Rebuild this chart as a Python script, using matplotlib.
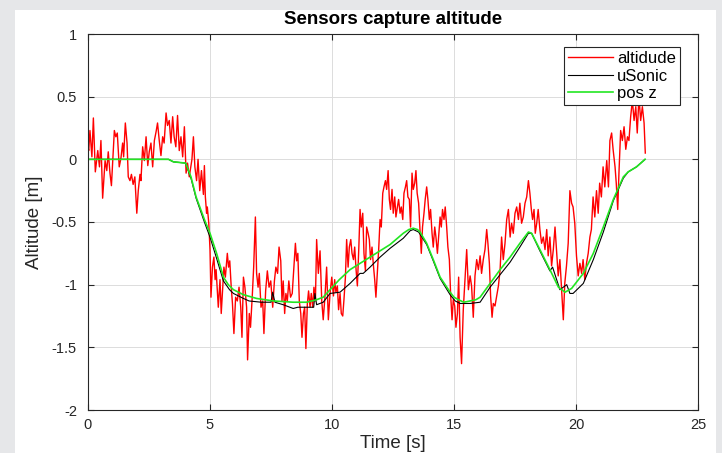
import matplotlib
matplotlib.use('Agg')
import matplotlib.pyplot as plt
from matplotlib.patches import Rectangle

plt.rcParams['font.family'] = ['Liberation Sans', 'DejaVu Sans']

# ---------------- data ----------------
red_t = [0.00, 0.03, 0.08, 0.16, 0.22, 0.30, 0.40, 0.47, 0.53, 0.60, 0.70, 0.77, 0.83, 0.90, 0.96,
         1.01, 1.08, 1.14, 1.20, 1.28, 1.35, 1.42, 1.46, 1.53, 1.60, 1.65, 1.72, 1.78, 1.85, 1.92,
         2.00, 2.06, 2.13, 2.17, 2.24, 2.31, 2.38, 2.45, 2.51, 2.58, 2.65, 2.72, 2.79, 2.85, 2.92,
         2.99, 3.06, 3.12, 3.20, 3.26, 3.33, 3.40, 3.47, 3.53, 3.60, 3.67, 3.74, 3.81, 3.88, 3.95,
         4.02, 4.08, 4.15, 4.26, 4.32, 4.38, 4.45, 4.51, 4.58, 4.65, 4.73, 4.77, 4.81, 4.86,
         4.89, 4.95, 5.00, 5.04, 5.10, 5.16, 5.21, 5.25, 5.34, 5.41, 5.46, 5.52, 5.57, 5.63, 5.71,
         5.76, 5.81, 5.87, 5.92, 5.98, 6.05, 6.12, 6.19, 6.26, 6.31, 6.37, 6.43, 6.50, 6.54, 6.61,
         6.66, 6.73, 6.79, 6.86, 6.91, 6.97, 7.02, 7.09, 7.16, 7.21, 7.28, 7.35, 7.42, 7.49, 7.57,
         7.64, 7.70, 7.77, 7.83, 7.90, 7.95, 8.00, 8.06, 8.11, 8.17, 8.23, 8.30, 8.37, 8.43, 8.50,
         8.55, 8.60, 8.66, 8.72, 8.77, 8.83, 8.88, 8.93, 8.99, 9.04, 9.10, 9.15, 9.21, 9.26, 9.32,
         9.37, 9.44, 9.51, 9.58, 9.64, 9.71, 9.78, 9.85,
         9.92, 9.99, 10.06, 10.11, 10.16, 10.22, 10.27, 10.33, 10.38, 10.44, 10.49, 10.55, 10.60,
         10.66, 10.71, 10.77, 10.82, 10.88, 10.93, 10.99, 11.04, 11.10, 11.15, 11.20, 11.26, 11.31,
         11.37, 11.42, 11.48, 11.53, 11.58, 11.64, 11.69, 11.75, 11.80, 11.86, 11.91, 11.97, 12.02,
         12.08, 12.13, 12.19, 12.24, 12.30, 12.35, 12.40, 12.46, 12.51, 12.57, 12.62, 12.68, 12.73,
         12.79, 12.84, 12.90, 12.95, 13.01, 13.06, 13.11, 13.17, 13.22, 13.28, 13.33, 13.39, 13.44,
         13.49, 13.55, 13.60, 13.66, 13.71, 13.77, 13.82, 13.88, 13.93, 13.99, 14.04, 14.10, 14.15,
         14.21, 14.26, 14.32, 14.37, 14.43, 14.48, 14.53, 14.59, 14.64, 14.70, 14.75, 14.81, 14.86,
         14.92, 14.97, 15.03, 15.08, 15.14, 15.19, 15.25, 15.31, 15.38, 15.44,
         15.52, 15.59, 15.66, 15.72, 15.79, 15.86, 15.93, 16.00, 16.07, 16.13, 16.20, 16.27, 16.34,
         16.39, 16.45, 16.50, 16.56, 16.61, 16.68, 16.75, 16.82, 16.89, 16.95, 17.02, 17.09, 17.16,
         17.23, 17.30, 17.36, 17.43, 17.50, 17.57, 17.64, 17.70, 17.77, 17.84, 17.91, 17.98, 18.05,
         18.11, 18.17, 18.22, 18.28, 18.33, 18.39, 18.45, 18.52, 18.59, 18.66, 18.73, 18.80, 18.86,
         18.93, 19.00, 19.07, 19.14, 19.20, 19.27, 19.34, 19.41, 19.48, 19.54, 19.61, 19.68, 19.75,
         19.82, 19.88, 19.95, 20.02, 20.09, 20.16, 20.23, 20.29, 20.36, 20.43, 20.50, 20.57,
         20.63, 20.70, 20.77, 20.84, 20.91, 20.97, 21.04, 21.11, 21.18, 21.26, 21.33, 21.39, 21.46,
         21.52, 21.60, 21.65, 21.71, 21.76, 21.83, 21.90, 21.97, 22.04, 22.11, 22.17, 22.24, 22.31,
         22.38, 22.45, 22.51, 22.58, 22.65, 22.72, 22.79, 22.84]
red_v = [0.10, 0.07, 0.23, 0.02, 0.33, -0.10, 0.07, -0.06, 0.15, -0.31, -0.01, -0.09, 0.06, -0.11, -0.21,
         -0.03, 0.23, 0.18, 0.21, -0.06, 0.01, 0.13, 0.02, 0.29, 0.13, -0.14, -0.17, -0.12, -0.20, -0.14,
         -0.43, -0.25, -0.12, -0.17, 0.10, -0.01, 0.18, -0.05, 0.06, 0.13, -0.06, 0.15, 0.22, 0.29, 0.15,
         0.03, 0.18, 0.13, 0.37, 0.27, 0.31, 0.13, 0.34, 0.18, 0.10, 0.35, 0.07, 0.18, 0.02, 0.26,
         -0.11, -0.03, -0.14, 0.00, 0.18, -0.06, -0.17, 0.00, -0.25, -0.09, -0.28, -0.05, -0.30, -0.43,
         -0.38, -0.51, -0.72, -1.10, -0.86, -0.78, -0.96, -0.88, -1.18, -0.96, -1.23, -1.02, -0.86, -0.94, -0.75,
         -0.86, -0.81, -1.02, -1.15, -1.39, -1.10, -1.13, -1.02, -1.18, -1.42, -0.94, -1.02, -1.18, -1.60, -1.23,
         -1.34, -1.10, -0.86, -0.46, -0.91, -1.02, -0.91, -1.18, -1.13, -1.39, -1.05, -0.89, -1.02, -0.97, -1.18,
         -0.97, -0.86, -0.91, -0.70, -0.81, -1.13, -0.97, -1.23, -1.07, -1.13, -0.97, -1.10, -1.07, -0.89, -0.67,
         -0.81, -0.75, -1.13, -1.23, -1.42, -1.23, -1.18, -1.51, -1.15, -1.05, -1.18, -1.07, -1.18, -1.02, -1.13,
         -0.64, -0.91, -0.73, -1.13, -1.28, -1.10, -0.86, -1.28,
         -1.07, -0.94, -1.09, -0.96, -1.06, -1.01, -1.20, -1.07, -1.23, -1.25, -1.12, -0.94, -0.64,
         -0.86, -0.70, -0.64, -0.75, -0.80, -0.70, -0.89, -1.01, -0.70, -0.40, -0.54, -0.43, -0.75,
         -0.89, -0.54, -0.59, -0.64, -0.80, -0.70, -0.83, -0.96, -1.10, -0.89, -0.73, -0.48, -0.54,
         -0.27, -0.22, -0.17, -0.24, -0.09, -0.32, -0.40, -0.24, -0.43, -0.30, -0.46, -0.38, -0.32,
         -0.43, -0.38, -0.48, -0.27, -0.22, -0.17, -0.30, -0.32, -0.54, -0.11, -0.24, -0.19, -0.09,
         -0.27, -0.35, -0.54, -0.75, -0.54, -0.43, -0.32, -0.22, -0.32, -0.48, -0.40, -0.59, -0.70,
         -0.54, -0.62, -0.75, -0.62, -0.46, -0.54, -0.40, -0.48, -0.38, -0.54, -0.70, -0.80, -1.07,
         -1.28, -1.12, -1.17, -1.34, -1.23, -0.94, -1.42, -1.63, -1.20, -0.99,
         -0.72, -1.04, -0.93, -1.01, -1.26, -0.93, -0.80, -0.88, -0.77, -0.91, -0.80, -0.72, -0.56,
         -0.67, -0.83, -1.09, -1.26, -1.15, -1.17, -1.09, -1.01, -0.88, -0.62, -0.80, -0.67, -0.48,
         -0.40, -0.62, -0.51, -0.59, -0.43, -0.38, -0.48, -0.35, -0.51, -0.46, -0.35, -0.30, -0.17,
         -0.27, -0.40, -0.48, -0.40, -0.59, -0.51, -0.40, -0.56, -0.67, -0.62, -0.72, -0.56, -0.77,
         -0.62, -0.85, -0.72, -0.54, -0.72, -0.93, -0.80, -1.04, -1.28, -0.99, -0.85, -0.67, -0.25,
         -0.35, -0.38, -0.51, -0.77, -0.93, -0.83, -0.91, -0.80, -0.96, -0.83, -0.75, -0.62,
         -0.56, -0.30, -0.46, -0.25, -0.43, -0.19, -0.30, -0.06, -0.22, -0.01, -0.22, 0.15, 0.21,
         0.08, -0.06, -0.19, -0.40, -0.11, 0.23, 0.15, 0.26, 0.08, 0.18, 0.15, 0.34, 0.47,
         0.31, 0.42, 0.21, 0.50, 0.31, 0.42, 0.29, 0.05]

usonic_t = [0.0, 3.3, 3.5, 4.0, 4.22, 4.43, 4.77, 5.00, 5.27, 5.55, 5.80, 5.96, 6.37, 6.60, 7.10,
            7.30, 7.50, 7.57, 7.66, 8.00, 8.41, 8.60, 8.96, 9.25, 9.30, 9.37, 9.64, 9.92, 10.33,
            10.74, 11.15, 11.28, 11.56, 11.97, 12.38, 12.65, 12.92, 13.20, 13.33, 13.55, 13.88,
            14.15, 14.43, 14.84, 15.05, 15.25, 15.66, 16.07, 16.48, 16.89, 17.30, 17.70, 18.05,
            18.18, 18.52, 18.93, 19.04, 19.34, 19.62, 19.75, 19.88, 20.30, 20.71, 21.12, 21.53,
            21.94, 22.14, 22.48, 22.83]
usonic_v = [0.0, 0.0, -0.02, -0.03, -0.15, -0.31, -0.50, -0.62, -0.79, -0.97, -1.04, -1.07, -1.11,
            -1.13, -1.14, -1.14, -1.14, -1.06, -1.14, -1.16, -1.19, -1.18, -1.18, -1.18, -1.07,
            -1.16, -1.14, -1.07, -1.06, -0.99, -0.91, -0.91, -0.86, -0.78, -0.71, -0.67, -0.63,
            -0.57, -0.56, -0.58, -0.68, -0.81, -0.95, -1.08, -1.13, -1.15, -1.15, -1.14, -1.02,
            -0.92, -0.82, -0.70, -0.59, -0.59, -0.73, -0.89, -0.86, -1.04, -1.00, -1.07, -1.07,
            -0.99, -0.80, -0.58, -0.33, -0.15, -0.10, -0.06, 0.00]

posz_t = [0.0, 3.3, 3.5, 4.0, 4.22, 4.43, 4.77, 5.00, 5.27, 5.55, 5.75, 5.96, 6.37, 6.91, 7.60,
          8.41, 8.96, 9.37, 9.64, 9.92, 10.30, 10.74, 11.56, 12.38, 12.92, 13.15, 13.33, 13.50,
          13.61, 13.88, 14.15, 14.43, 14.84, 15.00, 15.18, 15.40, 15.66, 15.90, 16.07, 16.48,
          16.89, 17.30, 17.70, 18.05, 18.18, 18.52, 18.93, 19.28, 19.55, 19.82, 20.30, 20.71,
          21.12, 21.53, 21.94, 22.14, 22.48, 22.83]
posz_v = [0.0, 0.0, -0.02, -0.03, -0.14, -0.30, -0.48, -0.59, -0.75, -0.94, -1.00, -1.04, -1.08,
          -1.11, -1.13, -1.14, -1.14, -1.12, -1.10, -1.04, -0.96, -0.88, -0.78, -0.68, -0.59,
          -0.56, -0.55, -0.56, -0.58, -0.67, -0.80, -0.94, -1.06, -1.10, -1.12, -1.14, -1.13,
          -1.12, -1.10, -0.99, -0.88, -0.78, -0.67, -0.58, -0.59, -0.72, -0.88, -1.02, -1.06,
          -1.03, -0.91, -0.75, -0.54, -0.32, -0.14, -0.10, -0.06, 0.00]

x_ticks = [0, 5, 10, 15, 20, 25]
y_ticks = [-2, -1.5, -1, -0.5, 0, 0.5, 1]
y_tick_labels = ['-2', '-1.5', '-1', '-0.5', '0', '0.5', '1']
series_labels = ['altidude', 'uSonic', 'pos z']

# ---------------- figure ----------------
W, H = 722, 453
fig = plt.figure(figsize=(W / 100, H / 100), dpi=100, facecolor='#e6e7e9')
fig.patches.append(Rectangle((15 / W, 0), (716 - 15) / W, 1 - 10 / H,
                             transform=fig.transFigure, facecolor='white',
                             edgecolor='none', zorder=-10))
ax = fig.add_axes([88 / W, 1 - 410 / H, 610 / W, 376 / H])

ax.plot(red_t, red_v, color='#ff0000', lw=1.0, label=series_labels[0])
ax.plot(usonic_t, usonic_v, color='black', lw=0.8, label=series_labels[1])
ax.plot(posz_t, posz_v, color='#22e622', lw=1.2, label=series_labels[2])

ax.set_xlim(0, 25)
ax.set_ylim(-2, 1)
ax.set_xticks(x_ticks)
ax.set_xticklabels([str(v) for v in x_ticks])
ax.set_yticks(y_ticks)
ax.set_yticklabels(y_tick_labels)
ax.grid(True, color='#dcdcdc', lw=0.7)
ax.set_axisbelow(True)
for s in ax.spines.values():
    s.set_color('#262626')
    s.set_linewidth(0.8)
ax.tick_params(direction='in', top=True, right=True, length=4, width=0.8,
               labelsize=10.5, colors='#262626', labelcolor='#262626')
ax.tick_params(axis='y', pad=8)
ax.tick_params(axis='x', pad=6)

ax.set_title('Sensors capture altitude', fontweight='bold', fontsize=13.5, pad=7)
ax.set_xlabel('Time [s]', fontsize=13.5, color='#262626', labelpad=2)
ax.set_ylabel('Altitude [m]', fontsize=13.5, color='#262626', labelpad=6)

leg = ax.legend(loc='upper right', bbox_to_anchor=((680 - 88) / 610, 1 - (47 - 34) / 376),
                borderaxespad=0, fancybox=False, framealpha=1, fontsize=12,
                handlelength=2.7, handletextpad=0.25, borderpad=0.25, labelspacing=0.15)
leg.get_frame().set_edgecolor('#262626')
leg.get_frame().set_linewidth(0.8)

fig.savefig('out.png', dpi=100, facecolor=fig.get_facecolor())
